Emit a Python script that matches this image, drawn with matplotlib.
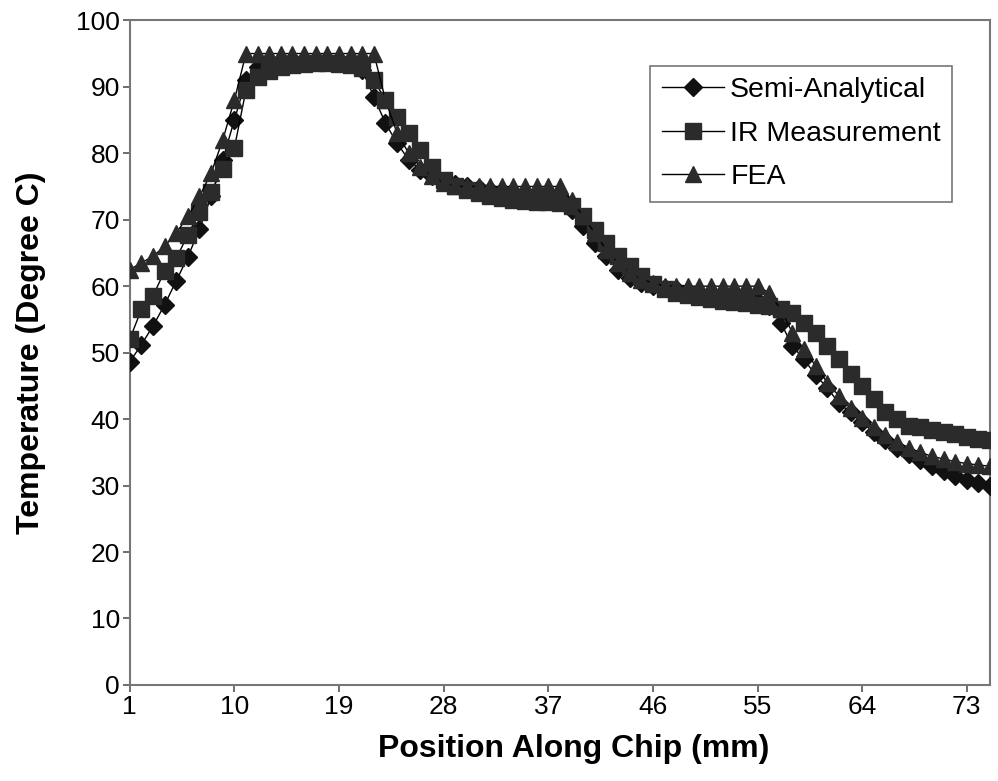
import numpy as np
import matplotlib
matplotlib.use("Agg")
import matplotlib.pyplot as plt

plt.rcParams['font.family'] = ['Liberation Sans', 'DejaVu Sans']

position = np.arange(1, 76)

semi_analytical = [48.6, 51.2, 54.0, 57.2, 60.8, 64.4, 68.6, 73.5, 79.0, 85.0,
                   91.0, 93.0, 93.5, 94.0, 94.0, 94.0, 94.0, 94.0, 94.0, 93.5,
                   92.5, 88.5, 84.5, 81.5, 79.0, 77.5, 76.5, 75.8, 75.3, 75.0,
                   74.7, 74.5, 74.3, 74.2, 74.0, 73.8, 73.5, 73.0, 71.5, 69.0,
                   66.5, 64.5, 62.5, 61.3, 60.5, 60.0, 59.7, 59.5, 59.3, 59.0,
                   58.8, 58.5, 58.3, 58.0, 57.8, 57.0, 54.5, 51.0, 49.0, 46.6,
                   44.7, 42.4, 41.0, 39.5, 38.0, 36.8, 35.7, 34.7, 33.8, 33.0,
                   32.2, 31.4, 30.9, 30.4, 30.0]

ir_measurement = [52.0, 56.5, 58.5, 62.3, 64.2, 67.7, 71.2, 74.2, 77.7, 80.8,
                  89.5, 91.5, 92.3, 93.0, 93.3, 93.5, 93.6, 93.6, 93.5, 93.3,
                  92.8, 91.0, 88.0, 85.5, 83.0, 80.5, 78.0, 76.0, 75.0, 74.5,
                  74.0, 73.5, 73.2, 73.0, 72.8, 72.7, 72.6, 72.5, 72.0, 70.5,
                  68.5, 66.5, 64.5, 63.0, 61.5, 60.3, 59.5, 59.0, 58.7, 58.4,
                  58.0, 57.8, 57.6, 57.4, 57.2, 57.0, 56.5, 56.0, 54.5, 53.0,
                  51.0, 49.0, 46.8, 45.0, 43.0, 41.0, 40.0, 39.0, 38.8, 38.3,
                  38.0, 37.7, 37.3, 37.0, 36.8]

fea = [62.5, 63.5, 64.5, 66.0, 68.0, 70.5, 73.5, 77.0, 82.0, 88.0,
       95.0, 95.0, 95.0, 95.0, 95.0, 95.0, 95.0, 95.0, 95.0, 95.0,
       95.0, 95.0, 88.0, 83.0, 80.0, 78.0, 76.5, 75.5, 75.0, 75.0,
       75.0, 75.0, 75.0, 75.0, 75.0, 75.0, 75.0, 75.0, 73.0, 70.5,
       68.0, 65.5, 63.5, 62.0, 61.0, 60.5, 60.0, 60.0, 60.0, 60.0,
       60.0, 60.0, 60.0, 60.0, 60.0, 59.0, 56.5, 53.0, 50.5, 48.0,
       45.5, 43.5, 41.7, 40.2, 38.8, 37.6, 36.6, 35.7, 35.0, 34.4,
       34.0, 33.6, 33.3, 33.1, 32.9]

xtick_pos = [1, 10, 19, 28, 37, 46, 55, 64, 73]

fig = plt.figure(figsize=(9.98, 7.81), dpi=100)
ax = fig.add_axes([0.130, 0.123, 0.862, 0.851])

ax.plot(position, semi_analytical, color='black', lw=1, marker='D', ms=9,
        mfc='#111111', mec='#111111', label='Semi-Analytical', zorder=3)
ax.plot(position, ir_measurement, color='black', lw=1, marker='s', ms=11,
        mfc='#2b2b2b', mec='#2b2b2b', label='IR Measurement', zorder=4)
ax.plot(position, fea, color='black', lw=1, marker='^', ms=12,
        mfc='#2b2b2b', mec='#2b2b2b', label='FEA', zorder=5)

ax.set_xlim(1, 75)
ax.set_ylim(0, 100)
ax.set_xticks(xtick_pos)
ax.set_yticks(np.arange(0, 101, 10))
ax.tick_params(axis='both', labelsize=19, color='#555555', length=5, width=1.2)
ax.tick_params(axis='y', pad=2)
ax.tick_params(axis='x', pad=2)

for s in ax.spines.values():
    s.set_color('#777777')
    s.set_linewidth(1.5)

ax.set_xlabel('Position Along Chip (mm)', fontsize=23, fontweight='bold')
ax.set_ylabel('Temperature (Degree C)', fontsize=23, fontweight='bold', labelpad=22)
ax.xaxis.set_label_coords(0.516, -0.074)

leg = ax.legend(loc='upper right', bbox_to_anchor=(0.956, 0.932), fontsize=20.5,
                frameon=True, fancybox=False, edgecolor='#555555',
                handlelength=2.2, handletextpad=0.2, borderpad=0.4,
                labelspacing=0.62, borderaxespad=0)
leg.get_frame().set_linewidth(1.2)

plt.savefig('out.png', dpi=100)
